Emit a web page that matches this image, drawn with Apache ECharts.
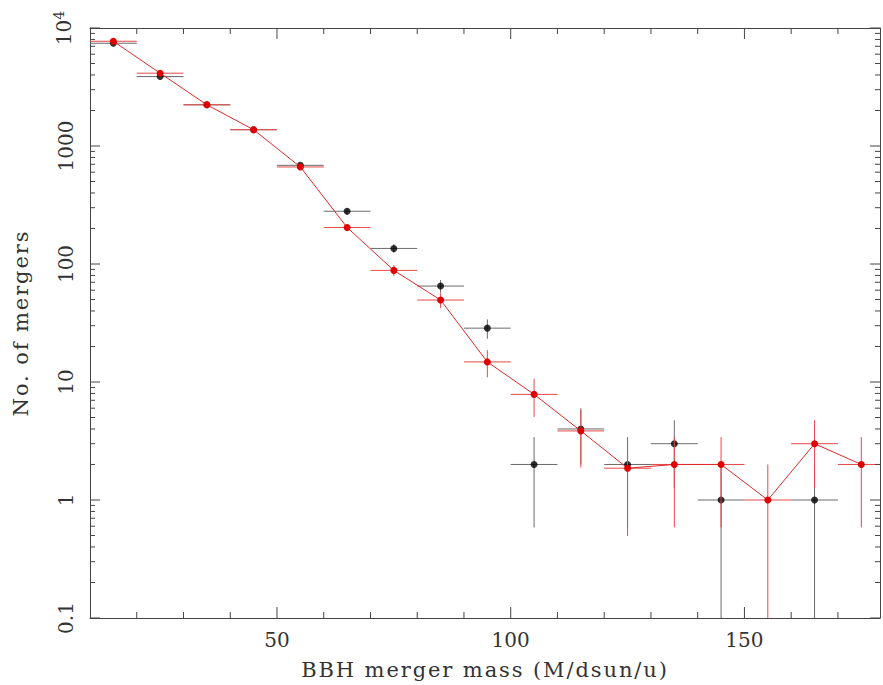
<!DOCTYPE html>
<html><head><meta charset="utf-8">
<script src="https://cdn.jsdelivr.net/npm/echarts@6/dist/echarts.min.js"></script>
<style>html,body{margin:0;padding:0;background:#fff}#c{width:883px;height:685px}</style>
</head><body><div id="c"></div>
<script>
// ---- data ----
const binCenters = [15,25,35,45,55,65,75,85,95,105,115,125,135,145,155,165,175];
const binHalfWidth = 5;
const blackCounts = [7430,3875,2234,1374,686,280,135.5,65,28.6,2,4,2,3,1,null,1,null];
const redCounts   = [7720,4140,2234,1374,664,204,88.3,49.5,14.8,7.85,3.85,1.86,2,2,1,3,2];
const xMajorTicks = [50,100,150];
const xMinorTicks = [20,30,40,60,70,80,90,110,120,130,140,160,170];
const yMajorTicks = [0.1,1,10,100,1000,10000];
const yMinorMultipliers = [2,3,4,5,6,7,8,9];
const yTickLabels = {'0.1':'0.1','1':'1','10':'10','100':'100','1000':'1000','10000':'{b|10}{s|4}'};
const X_MIN = 10, X_MAX = 179, Y_MIN = 0.1, Y_MAX = 10000;

const FONT = 'DejaVu Serif';
const TXT = '#333';
const AX = '#444';

function pairs(vals){ return binCenters.map((x,i)=>[x, vals[i]]).filter(d=>d[1]!=null); }

function errRender(color){
  return function(params, api){
    const x = api.value(0), y = api.value(1);
    const e = Math.sqrt(y);
    const lo = Math.max(y - e, Y_MIN), hi = y + e;
    const pL = api.coord([x - binHalfWidth, y]), pR = api.coord([x + binHalfWidth, y]);
    const pB = api.coord([x, lo]), pT = api.coord([x, hi]);
    return {type:'group', children:[
      {type:'line', shape:{x1:pL[0],y1:pL[1],x2:pR[0],y2:pR[1]}, style:{stroke:color,lineWidth:1}},
      {type:'line', shape:{x1:pB[0],y1:pB[1],x2:pT[0],y2:pT[1]}, style:{stroke:color,lineWidth:1}}
    ]};
  };
}

function tickRender(params, api){
  const cs = params.coordSys;
  const top = cs.y, bot = cs.y + cs.height, left = cs.x, right = cs.x + cs.width;
  const ch = [];
  const ln = (x1,y1,x2,y2)=>ch.push({type:'line',shape:{x1,y1,x2,y2},style:{stroke:AX,lineWidth:1}});
  xMajorTicks.forEach(v=>{ const p=api.coord([v,1])[0]; ln(p,bot,p,bot-11); ln(p,top,p,top+11); });
  xMinorTicks.forEach(v=>{ const p=api.coord([v,1])[0]; ln(p,bot,p,bot-6); ln(p,top,p,top+6); });
  yMajorTicks.forEach(v=>{ const p=api.coord([20,v])[1]; ln(left,p,left+10,p); ln(right,p,right-10,p);
    if (v < Y_MAX) yMinorMultipliers.forEach(m=>{ const q=api.coord([20,v*m])[1]; ln(left,q,left+5,q); ln(right,q,right-5,q); });
  });
  return {type:'group', children: ch};
}

const chart = echarts.init(document.getElementById('c'), null, {renderer:'svg'});
const labelStyle = {fontFamily:FONT, fontSize:20, color:TXT};
chart.setOption({
  animation:false,
  backgroundColor:'#fff',
  grid:{left:90, right:1, top:28, bottom:64},
  xAxis:[{
    type:'value', min:X_MIN, max:X_MAX, interval:10,
    axisLine:{show:true,lineStyle:{color:AX,width:1}}, axisTick:{show:false}, splitLine:{show:false},
    axisLabel:Object.assign({margin:12, formatter:v=> (v%50===0 ? String(v) : '')}, labelStyle),
    name:'BBH merger mass (M/dsun/u)', nameLocation:'middle', nameGap:41,
    nameTextStyle:{fontFamily:FONT, fontSize:21, color:TXT}
  },{
    type:'value', position:'top', min:X_MIN, max:X_MAX,
    axisLine:{show:true,lineStyle:{color:AX,width:1}}, axisTick:{show:false}, axisLabel:{show:false}, splitLine:{show:false}
  }],
  yAxis:[{
    type:'log', logBase:10, min:Y_MIN, max:Y_MAX,
    axisLine:{show:true,lineStyle:{color:AX,width:1}}, axisTick:{show:false}, splitLine:{show:false}, minorTick:{show:false},
    axisLabel:Object.assign({rotate:90, margin:14, formatter:v=>{ const k=String(+v.toPrecision(6)); return yTickLabels[k]!==undefined?yTickLabels[k]:''; },
      rich:{b:{fontFamily:FONT,fontSize:20,color:TXT}, s:{fontFamily:FONT,fontSize:14,color:TXT,verticalAlign:'top',padding:[0,0,10,0]}}}, labelStyle),
    name:'No. of mergers', nameLocation:'middle', nameGap:59, nameRotate:90,
    nameTextStyle:{fontFamily:FONT, fontSize:21, color:TXT}
  },{
    type:'log', logBase:10, position:'right', min:Y_MIN, max:Y_MAX,
    axisLine:{show:true,lineStyle:{color:AX,width:1}}, axisTick:{show:false}, axisLabel:{show:false}, splitLine:{show:false}
  }],
  series:[
    {type:'custom', renderItem:tickRender, data:[[X_MIN,1]], silent:true, clip:false, z:5},
    {type:'custom', renderItem:errRender('#6a6a6a'), data:pairs(blackCounts), clip:true, z:1},
    {type:'scatter', data:pairs(blackCounts), symbol:'circle', symbolSize:7, itemStyle:{color:'#000'}, z:2},
    {type:'custom', renderItem:errRender('#e84848'), data:pairs(redCounts), clip:true, z:3},
    {type:'line', data:pairs(redCounts), symbol:'circle', symbolSize:7, showSymbol:true,
      lineStyle:{color:'#e02828',width:1}, itemStyle:{color:'#e00000'}, z:4}
  ]
});
function spaceTitles(){
  document.querySelectorAll('#c text').forEach(t=>{
    const s = t.textContent;
    if (s.indexOf('BBH')===0 || s.indexOf('No.')===0){
      t.setAttribute('letter-spacing','1.9');
      t.style.letterSpacing='1.9px';
    }
  });
}
spaceTitles();
chart.on('finished', spaceTitles);
setTimeout(spaceTitles, 30);
setTimeout(spaceTitles, 200);
</script></body></html>
